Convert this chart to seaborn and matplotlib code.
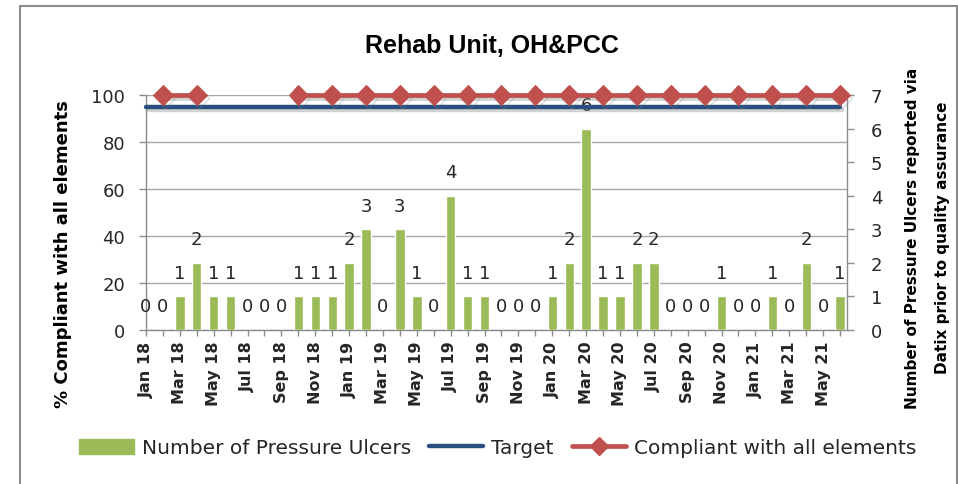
import numpy as np
import pandas as pd
import matplotlib
matplotlib.use("Agg")
import matplotlib.pyplot as plt
import matplotlib.patheffects as pe
from matplotlib.patches import Patch, Rectangle
from matplotlib.lines import Line2D
import seaborn as sns

# data
months = ['Jan 18', 'Feb 18', 'Mar 18', 'Apr 18', 'May 18', 'Jun 18', 'Jul 18', 'Aug 18',
          'Sep 18', 'Oct 18', 'Nov 18', 'Dec 18', 'Jan 19', 'Feb 19', 'Mar 19', 'Apr 19',
          'May 19', 'Jun 19', 'Jul 19', 'Aug 19', 'Sep 19', 'Oct 19', 'Nov 19', 'Dec 19',
          'Jan 20', 'Feb 20', 'Mar 20', 'Apr 20', 'May 20', 'Jun 20', 'Jul 20', 'Aug 20',
          'Sep 20', 'Oct 20', 'Nov 20', 'Dec 20', 'Jan 21', 'Feb 21', 'Mar 21', 'Apr 21',
          'May 21', 'Jun 21']
ulcers = [0, 0, 1, 2, 1, 1, 0, 0, 0, 1, 1, 1, 2, 3, 0, 3, 1, 0, 4, 1, 1,
          0, 0, 0, 1, 2, 6, 1, 1, 2, 2, 0, 0, 0, 1, 0, 0, 1, 0, 2, 0, 1]
target_value = 95
comp_months = ['Feb 18', 'Apr 18', 'Oct 18', 'Dec 18', 'Feb 19', 'Apr 19', 'Jun 19',
               'Aug 19', 'Oct 19', 'Dec 19', 'Feb 20', 'Apr 20', 'Jun 20', 'Aug 20',
               'Oct 20', 'Dec 20', 'Feb 21', 'Apr 21', 'Jun 21']
comp_values = [100, 100, 100, 100, 100, 100, 100, 100, 100, 100,
               100, 100, 100, 100, 100, 100, 100, 100, 100]

GREEN = '#9BBB59'
BLUE = '#2A4F7E'
RED = '#C0504D'
AXIS = '#8C8C8C'
TXT = '#262626'

sns.set_theme(style='white')
plt.rcParams['font.family'] = ['DejaVu Sans']

W, H = 958, 485
fig = plt.figure(figsize=(W / 100, H / 100), dpi=100)
rect = [146 / W, 1 - 331 / H, (847 - 146) / W, (331 - 96) / H]
ax = fig.add_axes(rect)
ax2 = ax.twinx()

# bars on the right axis
df = pd.DataFrame({'month': months, 'ulcers': ulcers})
sns.barplot(data=df, x='month', y='ulcers', order=months, ax=ax2,
            color=GREEN, saturation=1, width=0.55)
for i, v in enumerate(ulcers):
    ax2.annotate(str(v), (i, v), xytext=(0, 17), textcoords='offset points',
                 ha='center', va='center', fontsize=13, color=TXT)
ax2.set_ylim(0, 7)
ax2.set_yticks(range(8))
ax2.set_ylabel('')
ax2.set_xlabel('')

# lines on the left axis, drawn on a top layer
ax3 = fig.add_axes(rect, sharex=ax, sharey=ax)
ax3.axis('off')
ax3.patch.set_visible(False)

idx = np.arange(len(months))
sns.lineplot(x=idx, y=[target_value] * len(months), ax=ax3, color=BLUE, lw=3.2)
comp_idx = np.array([months.index(m) for m in comp_months])
seg = np.concatenate([[0], np.cumsum(np.diff(comp_idx) > 2)])
sns.lineplot(x=comp_idx, y=comp_values, units=seg, estimator=None, ax=ax3,
             color=RED, lw=3.4, marker='D', markersize=10, markeredgecolor=RED,
             legend=False)
for ln in ax3.lines:
    ln.set_clip_on(False)
    ln.set_path_effects([pe.SimpleLineShadow(offset=(1.5, -2.5), shadow_color='gray', alpha=0.35),
                         pe.Normal()])

ax.set_ylim(0, 100)
ax.set_yticks(range(0, 101, 20))
ax.yaxis.grid(True, color='#A6A6A6', lw=1)
ax.xaxis.grid(False)
ax.set_xticks(idx)
ax.set_xticklabels([m if i % 2 == 0 else '' for i, m in enumerate(months)],
                   rotation=90, fontsize=11.5, fontweight='bold', color=TXT)
ax.set_xlim(0, 41.41)

for a in (ax, ax2):
    for s in a.spines.values():
        s.set_visible(False)
        s.set_color(AXIS)
        s.set_linewidth(1)
ax.spines['left'].set_visible(True)
ax.spines['bottom'].set_visible(True)
ax2.spines['right'].set_visible(True)

ax.tick_params(axis='y', direction='out', length=5, width=1, color=AXIS,
               pad=10, labelsize=13, labelcolor=TXT, left=True)
ax.tick_params(axis='x', direction='out', length=4.5, width=1, color=AXIS,
               pad=3, bottom=True)
ax2.tick_params(axis='y', direction='out', length=5, width=1, color=AXIS,
                pad=12, labelsize=13, labelcolor=TXT, right=True)

# texts
fig.text(492 / W, 1 - 46 / H, 'Rehab Unit, OH&PCC', ha='center', va='center',
         fontsize=18, fontweight='bold', family=['Liberation Sans', 'DejaVu Sans'], color='black')
fig.text(63 / W, 1 - 254 / H, '% Compliant with all elements', rotation=90,
         ha='center', va='center', fontsize=13, fontweight='bold', color='black')
fig.text(912 / W, 1 - 238 / H, 'Number of Pressure Ulcers reported via', rotation=90,
         ha='center', va='center', fontsize=11, fontweight='bold', color='black')
fig.text(942 / W, 1 - 238 / H, 'Datix prior to quality assurance', rotation=90,
         ha='center', va='center', fontsize=11, fontweight='bold', color='black')

handles = [Patch(facecolor=GREEN, edgecolor=GREEN),
           Line2D([], [], color=BLUE, lw=3.2),
           Line2D([], [], color=RED, lw=3.4, marker='D', markersize=9)]
labels = ['Number of Pressure Ulcers', 'Target', 'Compliant with all elements']
fig.legend(handles, labels, loc='center', bbox_to_anchor=(498 / W, 1 - 449 / H),
           ncol=3, frameon=False, fontsize=14.5, handlelength=2.7, handleheight=0.8,
           handletextpad=0.4, columnspacing=0.9, labelcolor=TXT)

fig.patches.append(Rectangle((20 / W, -0.1), (957 - 20) / W, (H - 7) / H + 0.1,
                             transform=fig.transFigure, fill=False, ec=AXIS, lw=1.5))

fig.savefig('out.png', dpi=100)
